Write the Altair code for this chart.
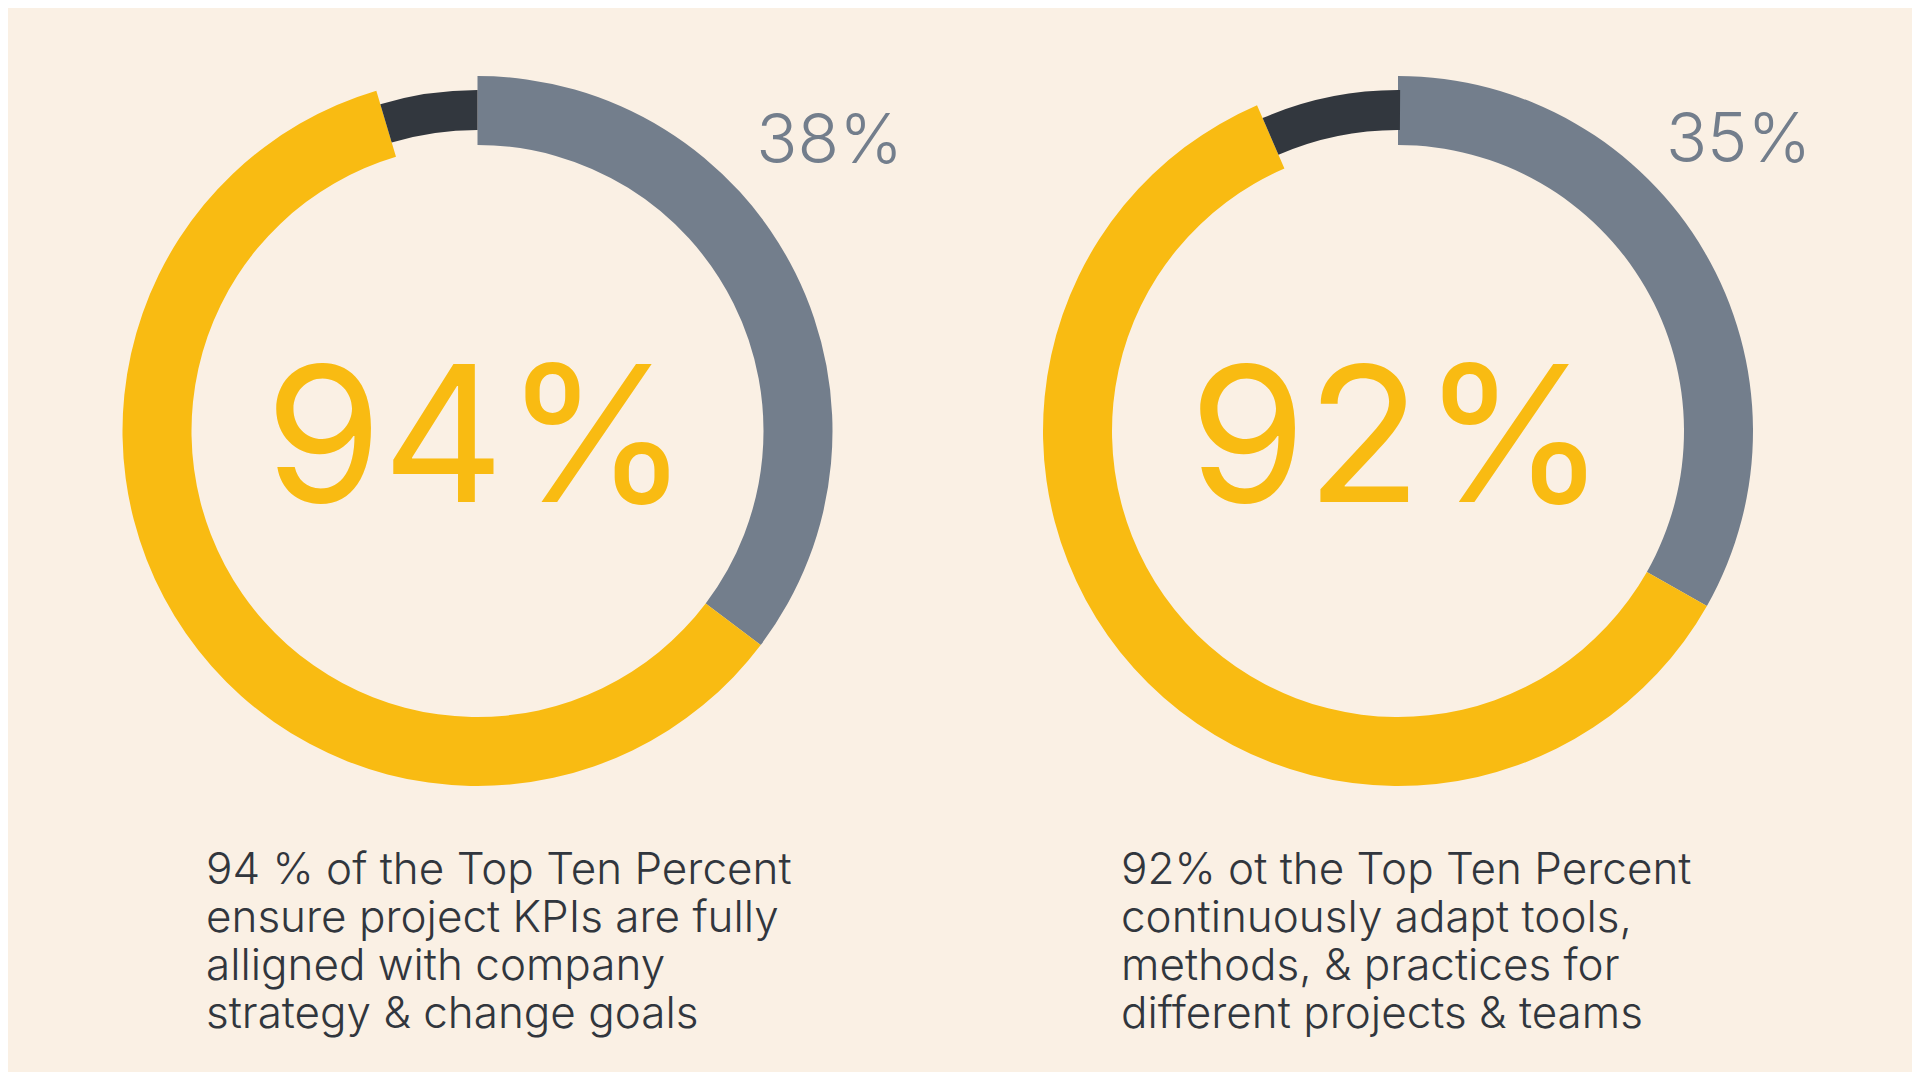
import altair as alt
import pandas as pd

# ---- data ----
segments = ["Gray", "Yellow", "Dark"]
seg_order = [1, 2, 3]
left_values = [35.3, 60.1, 4.6]
right_values = [33.2, 60.3, 6.6]
big_labels = ["94%", "92%"]
side_labels = ["38%", "35%"]
captions = [
    ["94 % of the Top Ten Percent",
     "ensure project KPIs are fully",
     "alligned with company",
     "strategy & change goals"],
    ["92% ot the Top Ten Percent",
     "continuously adapt tools,",
     "methods, & practices for",
     "different projects & teams"],
]

# ---- styles ----
BG = "#FAF0E4"
YELLOW = "#F9BB12"
GRAY = "#737E8C"
DARK = "#32373E"
TEXT = "#31363D"
FONT = "Inter"

W, H = 1904, 1064
centers = [(469.5, 423), (1390, 423)]
side_pos = [(821.6, 154.5), (1730.5, 153.6)]
cap_x = [198, 1113]

color_scale = alt.Scale(domain=segments, range=[GRAY, YELLOW, DARK])
theta_scale = alt.Scale(domain=[0, 100])

layers = []
for i, vals in enumerate([left_values, right_values]):
    df = pd.DataFrame({"segment": segments, "value": vals, "order": seg_order})
    cx, cy = centers[i]
    base = alt.Chart(df).transform_stack(
        stack="value", as_=["v0", "v1"], groupby=[],
        sort=[alt.SortField("order", "ascending")]
    )
    enc = dict(
        x=alt.value(cx), y=alt.value(cy),
        theta=alt.Theta("v0:Q", scale=theta_scale),
        theta2="v1:Q",
        color=alt.Color("segment:N", scale=color_scale, legend=None),
    )
    ring = base.transform_filter(alt.datum.segment != "Dark").mark_arc(
        radius=355, radius2=286
    ).encode(**enc)
    thin = base.transform_filter(alt.datum.segment == "Dark").mark_arc(
        radius=341, radius2=301
    ).encode(**enc)
    layers += [ring, thin]

    tdf = pd.DataFrame({"big": [big_labels[i]], "side": [side_labels[i]],
                        "cap": ["\n".join(captions[i])]})
    big = alt.Chart(tdf).mark_text(
        font=FONT, fontSize=189, fontWeight=400, color=YELLOW,
        align="center", baseline="alphabetic"
    ).encode(x=alt.value(cx), y=alt.value(494), text="big:N")
    sx, sy = side_pos[i]
    side = alt.Chart(tdf).mark_text(
        font=FONT, fontSize=68, fontWeight=300, color=GRAY,
        align="center", baseline="alphabetic"
    ).encode(x=alt.value(sx), y=alt.value(sy), text="side:N")
    cap = alt.Chart(tdf).mark_text(
        font=FONT, fontSize=44, fontWeight=300, color=TEXT,
        align="left", baseline="alphabetic", lineBreak="\n", lineHeight=48
    ).encode(x=alt.value(cap_x[i]), y=alt.value(876), text="cap:N")
    layers += [big, side, cap]

chart = alt.layer(*layers).properties(
    width=W, height=H, background=BG, padding=0,
    autosize=alt.AutoSizeParams(type="none"),
).configure_view(stroke=None)

chart.save("out.html", embed_options={"renderer": "svg", "actions": False})
